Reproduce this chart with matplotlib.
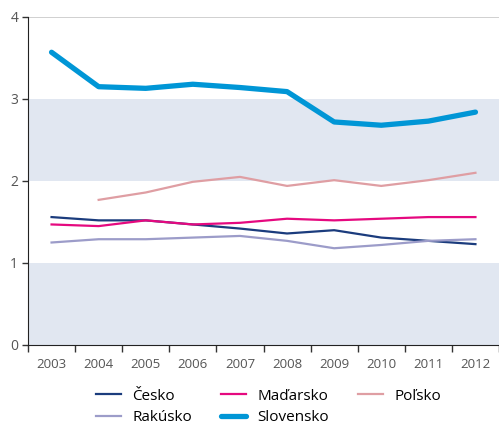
import matplotlib.pyplot as plt
import numpy as np

plt.rcParams['font.family'] = ['Open Sans', 'DejaVu Sans']

years = ['2003', '2004', '2005', '2006', '2007', '2008', '2009', '2010', '2011', '2012']
cesko = [1.56, 1.52, 1.52, 1.47, 1.42, 1.36, 1.40, 1.31, 1.27, 1.23]
madarsko = [1.47, 1.45, 1.52, 1.47, 1.49, 1.54, 1.52, 1.54, 1.56, 1.56]
polsko = [np.nan, 1.77, 1.86, 1.99, 2.05, 1.94, 2.01, 1.94, 2.01, 2.10]
rakusko = [1.25, 1.29, 1.29, 1.31, 1.33, 1.27, 1.18, 1.22, 1.27, 1.29]
slovensko = [3.57, 3.15, 3.13, 3.18, 3.14, 3.09, 2.72, 2.68, 2.73, 2.84]

fig = plt.figure(figsize=(4.99, 4.26), dpi=100)
ax = fig.add_axes([28 / 499, 81 / 426, 471 / 499, 328 / 426])

x = np.arange(len(years))
# shaded bands
ax.axhspan(0, 1, color='#e1e7f1', lw=0, zorder=0)
ax.axhspan(2, 3, color='#e1e7f1', lw=0, zorder=0)
ax.axhline(4, color='#c8c8c8', lw=1.2, zorder=1)

l1, = ax.plot(x, cesko, color='#1b3c7d', lw=1.6, label='Česko')
l2, = ax.plot(x, madarsko, color='#e5097f', lw=1.6, label='Maďarsko')
l3, = ax.plot(x, polsko, color='#df9ea3', lw=1.6, label='Poľsko')
l4, = ax.plot(x, rakusko, color='#9c9cc9', lw=1.6, label='Rakúsko')
l5, = ax.plot(x, slovensko, color='#0096d6', lw=3.8, solid_capstyle='round', label='Slovensko')

ax.set_xlim(-0.5, -0.5 + 471 / 48)
ax.set_ylim(0, 4)
ax.set_yticks([0, 1, 2, 3, 4])
ax.set_xticks(x)
ax.set_xticklabels(years)
ax.set_xticks(np.arange(-0.5, 9.6, 1), minor=True)
ax.tick_params(axis='x', which='major', length=0, pad=9, labelsize=9.5, colors='#555555')
ax.tick_params(axis='x', which='minor', length=5, width=1, color='#333333', direction='out')
ax.tick_params(axis='y', length=4, width=1, color='#333333', labelsize=10, colors='#555555', pad=3)
ax.tick_params(axis='y', color='#333333')

for s in ['top', 'right']:
    ax.spines[s].set_visible(False)
ax.spines['left'].set_color('#222222')
ax.spines['bottom'].set_color('#222222')

fig.legend(handles=[l1, l4, l2, l5, l3], ncol=3, frameon=False,
           loc='center left', bbox_to_anchor=(96 / 499, 1 - 407 / 426),
           borderpad=0, borderaxespad=0,
           fontsize=11, handlelength=1.65, columnspacing=1.9, labelspacing=0.45,
           handletextpad=0.72)

fig.savefig('out.png', dpi=100)
